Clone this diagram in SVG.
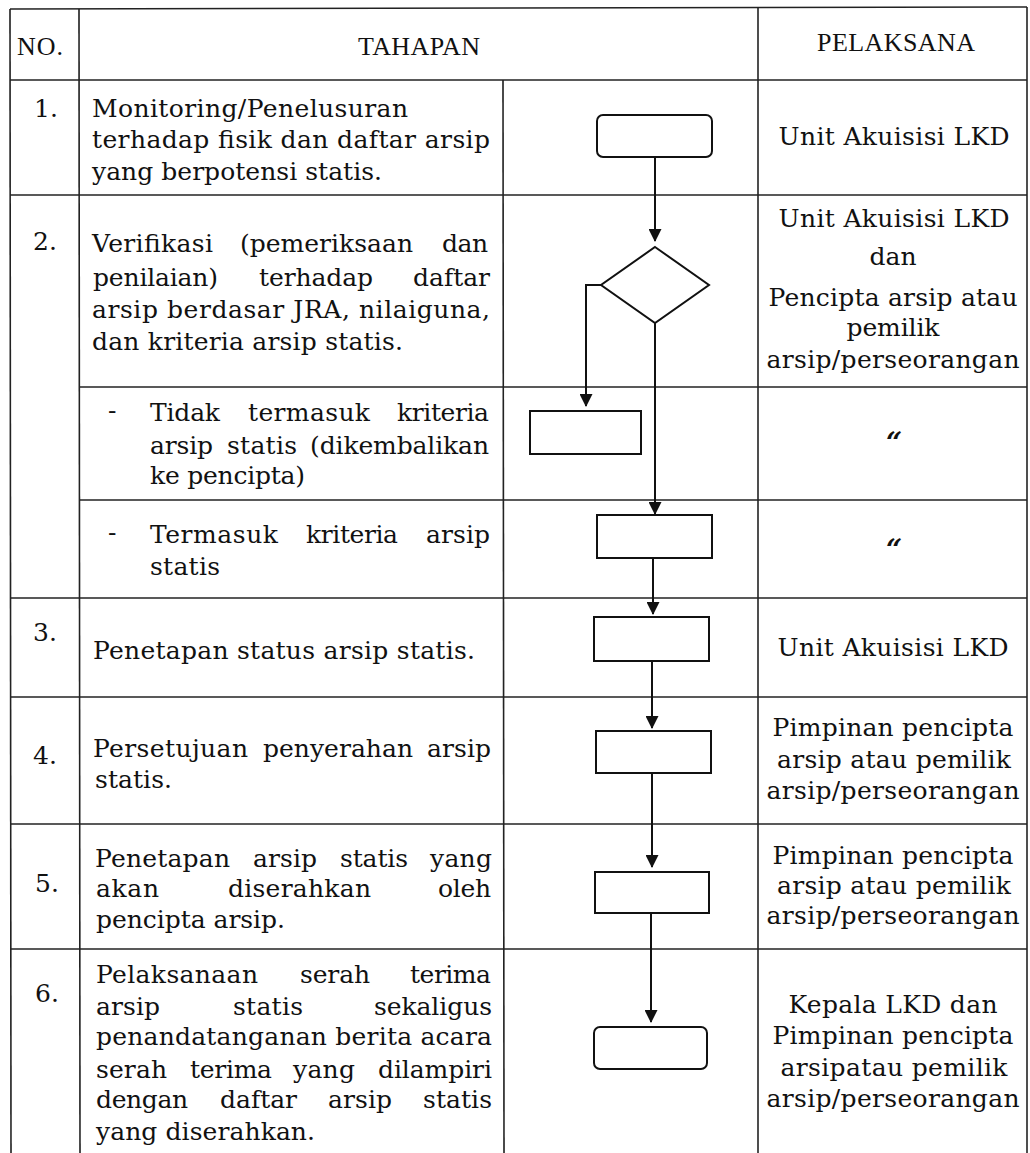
<svg xmlns="http://www.w3.org/2000/svg" width="1030" height="1153" viewBox="0 0 1030 1153">
<style>
.grid line{stroke:#222;stroke-width:1.6}
.h{font-family:"Liberation Serif",serif;font-size:26px;fill:#111}
.b{font-family:"DejaVu Serif",serif;font-size:25px;fill:#111}
.p{font-family:"DejaVu Serif",serif;font-size:25px;fill:#111;text-anchor:middle}
.d{font-family:"DejaVu Serif",serif;font-size:28px;font-style:italic;font-weight:bold;fill:#111;text-anchor:middle}
.shape{fill:#fff;stroke:#111;stroke-width:2}
.conn path{fill:none;stroke:#111;stroke-width:2}
</style>
<defs>
<marker id="arr" markerUnits="userSpaceOnUse" markerWidth="13" markerHeight="13" refX="12" refY="6.5" orient="auto" viewBox="0 0 13 13">
<path d="M0,0 L13,6.5 L0,13 z" fill="#111"/>
</marker>
</defs>
<rect width="1030" height="1153" fill="#fff"/>
<g id="table" class="grid">
<line x1="10" y1="9" x2="1027" y2="7"/>
<line x1="10" y1="80" x2="1027" y2="80"/>
<line x1="10" y1="195" x2="1027" y2="195"/>
<line x1="79" y1="387" x2="1027" y2="387"/>
<line x1="79" y1="500" x2="1027" y2="500"/>
<line x1="10" y1="598" x2="1027" y2="598"/>
<line x1="10" y1="697" x2="1027" y2="697"/>
<line x1="10" y1="824" x2="1027" y2="824"/>
<line x1="10" y1="949" x2="1027" y2="949"/>
<line x1="10" y1="9" x2="11" y2="1153"/>
<line x1="79" y1="9" x2="80" y2="1153"/>
<line x1="503" y1="80" x2="504" y2="1153"/>
<line x1="758" y1="7" x2="758" y2="1153"/>
<line x1="1027" y1="7" x2="1027" y2="1153"/>
</g>
<g id="header">
<text class="h" x="17" y="55" textLength="46">NO.</text>
<text class="h" x="358" y="55" textLength="122">TAHAPAN</text>
<text class="h" x="817" y="51" textLength="158">PELAKSANA</text>
</g>
<g id="row1">
<text class="b" x="34" y="117">1.</text>
<text class="b" x="92" y="117" textLength="316">Monitoring/Penelusuran</text>
<text class="b" x="92" y="148" textLength="398">terhadap fisik dan daftar arsip</text>
<text class="b" x="92" y="180" textLength="290">yang berpotensi statis.</text>
<text class="p" x="894" y="145" textLength="231">Unit Akuisisi LKD</text>
</g>
<g id="row2">
<text class="b" x="33" y="250">2.</text>
<text class="b" x="92" y="252" textLength="121">Verifikasi</text>
<text class="b" x="240" y="252" textLength="173">(pemeriksaan</text>
<text class="b" x="442" y="252" textLength="46">dan</text>
<text class="b" x="93" y="286" textLength="125">penilaian)</text>
<text class="b" x="259" y="286" textLength="114">terhadap</text>
<text class="b" x="413" y="286" textLength="77">daftar</text>
<text class="b" x="92" y="318" textLength="398">arsip berdasar JRA, nilaiguna,</text>
<text class="b" x="92" y="350" textLength="311">dan kriteria arsip statis.</text>
<text class="p" x="894" y="227" textLength="231">Unit Akuisisi LKD</text>
<text class="p" x="893" y="265" textLength="47">dan</text>
<text class="p" x="893" y="306" textLength="249">Pencipta arsip atau</text>
<text class="p" x="893" y="336" textLength="93">pemilik</text>
<text class="p" x="893" y="368" textLength="253">arsip/perseorangan</text>
</g>
<g id="row2a">
<text class="b" x="108" y="419">-</text>
<text class="b" x="150" y="421" textLength="70">Tidak</text>
<text class="b" x="248" y="421" textLength="122">termasuk</text>
<text class="b" x="397" y="421" textLength="92">kriteria</text>
<text class="b" x="150" y="454" textLength="63">arsip</text>
<text class="b" x="227" y="454" textLength="70">statis</text>
<text class="b" x="310" y="454" textLength="179">(dikembalikan</text>
<text class="b" x="150" y="484" textLength="155">ke pencipta)</text>
<text class="d" x="894" y="452">“</text>
</g>
<g id="row2b">
<text class="b" x="108" y="541">-</text>
<text class="b" x="150" y="543" textLength="128">Termasuk</text>
<text class="b" x="306" y="543" textLength="92">kriteria</text>
<text class="b" x="426" y="543" textLength="64">arsip</text>
<text class="b" x="150" y="575" textLength="70">statis</text>
<text class="d" x="894" y="559">“</text>
</g>
<g id="row3">
<text class="b" x="33" y="641">3.</text>
<text class="b" x="93" y="659" textLength="382">Penetapan status arsip statis.</text>
<text class="p" x="893" y="656" textLength="231">Unit Akuisisi LKD</text>
</g>
<g id="row4">
<text class="b" x="33" y="764">4.</text>
<text class="b" x="93" y="757" textLength="155">Persetujuan</text>
<text class="b" x="263" y="757" textLength="150">penyerahan</text>
<text class="b" x="427" y="757" textLength="64">arsip</text>
<text class="b" x="95" y="788" textLength="77">statis.</text>
<text class="p" x="893" y="736" textLength="241">Pimpinan pencipta</text>
<text class="p" x="894" y="768" textLength="234">arsip atau pemilik</text>
<text class="p" x="893" y="799" textLength="253">arsip/perseorangan</text>
</g>
<g id="row5">
<text class="b" x="35" y="892">5.</text>
<text class="b" x="95" y="867" textLength="135">Penetapan</text>
<text class="b" x="253" y="867" textLength="64">arsip</text>
<text class="b" x="340" y="867" textLength="68">statis</text>
<text class="b" x="430" y="867" textLength="62">yang</text>
<text class="b" x="96" y="897" textLength="63">akan</text>
<text class="b" x="228" y="897" textLength="143">diserahkan</text>
<text class="b" x="438" y="897" textLength="53">oleh</text>
<text class="b" x="96" y="928" textLength="189">pencipta arsip.</text>
<text class="p" x="893" y="864" textLength="241">Pimpinan pencipta</text>
<text class="p" x="894" y="894" textLength="234">arsip atau pemilik</text>
<text class="p" x="893" y="924" textLength="253">arsip/perseorangan</text>
</g>
<g id="row6">
<text class="b" x="35" y="1002">6.</text>
<text class="b" x="96" y="983" textLength="162">Pelaksanaan</text>
<text class="b" x="300" y="983" textLength="70">serah</text>
<text class="b" x="410" y="983" textLength="81">terima</text>
<text class="b" x="96" y="1015" textLength="64">arsip</text>
<text class="b" x="233" y="1015" textLength="70">statis</text>
<text class="b" x="374" y="1015" textLength="118">sekaligus</text>
<text class="b" x="96" y="1045" textLength="396">penandatanganan berita acara</text>
<text class="b" x="96" y="1078" textLength="71">serah</text>
<text class="b" x="190" y="1078" textLength="82">terima</text>
<text class="b" x="293" y="1078" textLength="62">yang</text>
<text class="b" x="378" y="1078" textLength="114">dilampiri</text>
<text class="b" x="96" y="1108" textLength="92">dengan</text>
<text class="b" x="220" y="1108" textLength="77">daftar</text>
<text class="b" x="328" y="1108" textLength="64">arsip</text>
<text class="b" x="423" y="1108" textLength="69">statis</text>
<text class="b" x="96" y="1140" textLength="219">yang diserahkan.</text>
<text class="p" x="893" y="1013" textLength="209">Kepala LKD dan</text>
<text class="p" x="893" y="1044" textLength="241">Pimpinan pencipta</text>
<text class="p" x="894" y="1076" textLength="227">arsipatau pemilik</text>
<text class="p" x="893" y="1107" textLength="253">arsip/perseorangan</text>
</g>
<g id="node-start"><rect class="shape" x="597" y="115" width="115" height="42" rx="6"/></g>
<g id="node-decision"><polygon class="shape" points="655,247 709,285 655,323 601,285"/></g>
<g id="node-return"><rect class="shape" x="530" y="411" width="111" height="43"/></g>
<g id="node-included"><rect class="shape" x="597" y="515" width="115" height="43"/></g>
<g id="node-status"><rect class="shape" x="594" y="617" width="115" height="44"/></g>
<g id="node-approval"><rect class="shape" x="596" y="731" width="115" height="42"/></g>
<g id="node-selection"><rect class="shape" x="595" y="872" width="114" height="41"/></g>
<g id="node-end"><rect class="shape" x="594" y="1027" width="113" height="42" rx="6"/></g>
<g id="connectors" class="conn">
<path d="M655,157 L655,241" marker-end="url(#arr)"/>
<path d="M601,285 L586,285 L586,406" marker-end="url(#arr)"/>
<path d="M655,323 L655,514" marker-end="url(#arr)"/>
<path d="M653,558 L653,614" marker-end="url(#arr)"/>
<path d="M652,661 L652,728" marker-end="url(#arr)"/>
<path d="M652,773 L652,867" marker-end="url(#arr)"/>
<path d="M651,913 L651,1022" marker-end="url(#arr)"/>
</g>
</svg>
